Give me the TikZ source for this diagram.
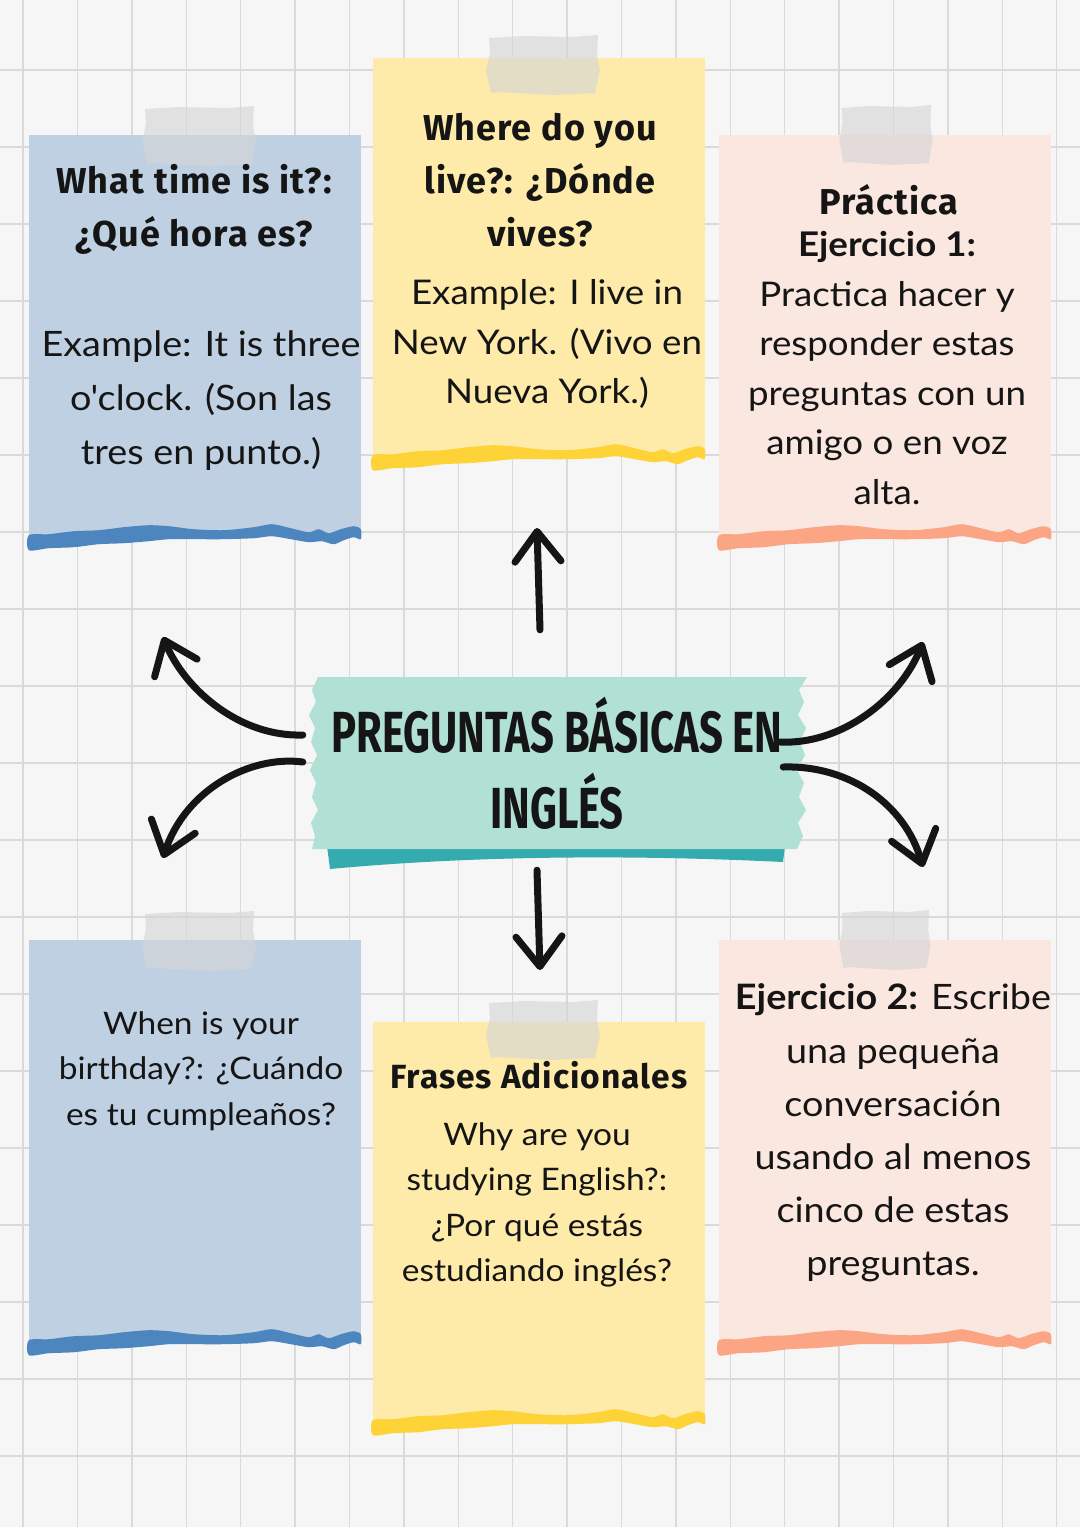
\documentclass[tikz,border=0pt]{standalone}
\usepackage{fontspec}
\usepackage{xcolor}
\usepackage{tikz}
\usetikzlibrary{calc, positioning, arrows.meta}
\newfontfamily\bodyfont[FakeStretch=1.08]{Lato}
\newfontfamily\handfont[FakeStretch=1.0, LetterSpace=3]{Fira Sans}
\newfontfamily\titlefont[FakeStretch=0.72]{Fira Sans}
\definecolor{paper}{HTML}{F6F6F6}
\definecolor{gridgray}{HTML}{DADADA}
\definecolor{blueNote}{HTML}{BFD0E2}
\definecolor{blueEdge}{HTML}{4D85BF}
\definecolor{yellowNote}{HTML}{FEEBA9}
\definecolor{yellowEdge}{HTML}{FDD338}
\definecolor{peachNote}{HTML}{FAE7DF}
\definecolor{peachEdge}{HTML}{FBA584}
\definecolor{tealBanner}{HTML}{B1E1D4}
\definecolor{tealStrip}{HTML}{34ABAE}
\definecolor{ink}{HTML}{151515}
\tikzset{
    note/.style={rectangle, inner sep=0pt, minimum width=332pt, minimum height=400pt},
    heading/.style={align=center, inner sep=0pt, text=ink, font=\handfont\bfseries\fontsize{36}{53}\selectfont},
    body/.style={align=center, inner sep=0pt, text=ink, font=\bodyfont\fontsize{34}{49.5}\selectfont},
    banner/.style={rectangle, inner sep=0pt, minimum width=490pt, minimum height=172pt, align=center, text=ink, font=\titlefont\bfseries\fontsize{58}{76}\selectfont},
    gridline/.style={draw=gridgray, line width=1.4pt},
    tapeFill/.style={fill=gray!32!white, fill opacity=0.65},
    arrow/.style={-{Straight Barb[length=30pt, width=46pt, round]}, line width=7pt, line cap=round, draw=ink},
    torn/.pic={
        \path[pic actions] plot[smooth cycle, tension=0.45] coordinates {(0,0) (20,-1) (45,-4) (70,-5) (95,-8) (120,-10) (140,-9) (165,-6) (195,-5) (225,-8) (243,-11) (262,-7) (280,-3) (290,-6) (300,-2) (312,-6) (325,-9) (332,-6) (332,4) (325,2) (315,5) (305,9) (293,6) (280,7) (262,4) (243,1) (225,3) (195,4) (165,4) (140,4) (120,6) (95,8) (70,9) (45,12) (20,13) (0,15)};
    },
    tape/.pic={
        \path[pic actions] (-54,-27) -- (-20,-29) -- (30,-28) -- (55,-30) -- (54,-10) -- (57,5) -- (52,28) -- (10,30) -- (-45,27) -- (-52,28) -- (-57,5) -- (-53,-12) -- cycle;
    }
}

\begin{document}
\begin{tikzpicture}[x=1pt, y=-1pt]
    \useasboundingbox (0,0) rectangle (1080,1527);
    \fill[paper] (0,0) rectangle (1080,1527);

    % Grid paper
    \foreach \i in {0,...,19}
        \draw[gridline] ({23+54.4*\i},0) -- ({23+54.4*\i},1527);
    \foreach \j in {0,...,18}
        \draw[gridline] (0,{70+77*\j}) -- (1080,{70+77*\j});

    % Notes
    \node[note, fill=blueNote] (n1) at (195,335) {};
    \node[note, fill=yellowNote, minimum height=397pt] (n2) at (539,256.5) {};
    \node[note, fill=peachNote] (n3) at (885,335) {};
    \node[note, fill=blueNote] (n4) at (195,1140) {};
    \node[note, fill=yellowNote, minimum height=398pt] (n5) at (539,1221) {};
    \node[note, fill=peachNote] (n6) at (885,1140) {};

    \pic[fill=blueEdge] at (n1.south west) {torn};
    \pic[fill=yellowEdge] at (n2.south west) {torn};
    \pic[fill=peachEdge] at (n3.south west) {torn};
    \pic[fill=blueEdge] at (n4.south west) {torn};
    \pic[fill=yellowEdge] at (n5.south west) {torn};
    \pic[fill=peachEdge] at (n6.south west) {torn};

    % Tape
    \pic[tapeFill] at (199,136) {tape};
    \pic[tapeFill] at (543,65) {tape};
    \pic[tapeFill, xscale=0.82] at (886,135) {tape};
    \pic[tapeFill] at (199,941) {tape};
    \pic[tapeFill] at (543,1030) {tape};
    \pic[tapeFill, xscale=0.8] at (885,940) {tape};

    % Central banner
    \fill[tealStrip] (327,846) -- (785,846) -- (783,862) .. controls (640,855) and (480,855) .. (330,869) -- cycle;
    \fill[tealBanner] (318,677) -- (312,690) -- (316,702) -- (309,715) -- (315,728) -- (311,742) -- (317,755) -- (310,770) -- (316,783) -- (312,797) -- (318,810) -- (311,823) -- (315,836) -- (312,849)
        -- (797,849) -- (803,836) -- (798,823) -- (806,810) -- (799,797) -- (804,783) -- (797,770) -- (805,755) -- (800,742) -- (806,728) -- (798,715) -- (804,702) -- (799,690) -- (807,677) -- cycle;
    \node[banner] (title) at (557,763) {PREGUNTAS BÁSICAS EN\\INGLÉS};

    % Arrows
    \coordinate (tipUp) at (537,528);
    \coordinate (tipDown) at (540,970);
    \coordinate (tipLU) at (163,637);
    \coordinate (tipLL) at (163,858);
    \coordinate (tipRU) at (923,642);
    \coordinate (tipRL) at (923,867);
    \draw[arrow] ([shift={(-17,-47)}]title.north) -- (tipUp);
    \draw[arrow] ([shift={(-20,21)}]title.south) -- (tipDown);
    \draw[arrow] ([shift={(-9,-28)}]title.west) .. controls (240,737) and (185,690) .. (tipLU);
    \draw[arrow] ([shift={(-9,-1)}]title.west) .. controls (250,755) and (185,790) .. (tipLL);
    \draw[arrow] ([shift={(-22,-21)}]title.east) .. controls (840,745) and (900,700) .. (tipRU);
    \draw[arrow] ([shift={(-19,4)}]title.east) .. controls (850,765) and (905,805) .. (tipRL);

    % Texts
    \node[heading] (h1) at (194,209) {What time is it?:\\¿Qué hora es?};
    \node[body, font=\bodyfont\fontsize{35}{54}\selectfont] (b1) at (201,401) {Example: It is three\\o'clock. (Son las\\tres en punto.)};
    \node[heading] (h2) at (540,180) {Where do you\\live?: ¿Dónde\\vives?};
    \node[body] (b2) at (547,344) {Example: I live in\\New York. (Vivo en\\Nueva York.)};
    \node[heading] (h3) at (889,200) {Práctica};
    \node[body] (b3) at (887,368) {\textbf{Ejercicio 1:}\\Practica hacer y\\responder estas\\preguntas con un\\amigo o en voz\\alta.};
    \node[body, font=\bodyfont\fontsize{31}{45.5}\selectfont] (b4) at (201,1071) {When is your\\birthday?: ¿Cuándo\\es tu cumpleaños?};
    \node[heading, font=\handfont\bfseries\fontsize{33.5}{40}\selectfont] (h5) at (539,1075) {Frases Adicionales};
    \node[body, font=\bodyfont\fontsize{31}{45.3}\selectfont] (b5) at (537,1205) {Why are you\\studying English?:\\¿Por qué estás\\estudiando inglés?};
    \node[body, font=\bodyfont\fontsize{35}{53.2}\selectfont] (b6) at (893,1133) {\textbf{Ejercicio 2:} Escribe\\una pequeña\\conversación\\usando al menos\\cinco de estas\\preguntas.};
\end{tikzpicture}
\end{document}
